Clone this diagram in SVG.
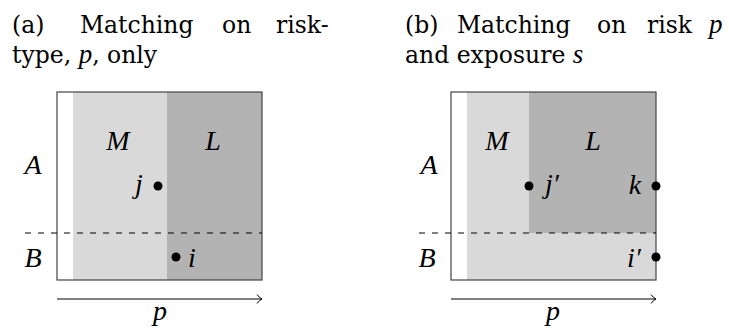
<svg xmlns="http://www.w3.org/2000/svg" width="729" height="336" viewBox="0 0 729 336">
<defs>
<style>
text{fill:#000}
.t{font-family:"DejaVu Serif","Liberation Serif",serif;font-size:23.5px}
.ti{font-family:"Liberation Serif","DejaVu Serif",serif;font-style:italic;font-size:27px}
.m{font-family:"Liberation Serif","DejaVu Serif",serif;font-style:italic;font-size:28px}
.box{fill:none;stroke:#444;stroke-width:1.2}
.dash{stroke:#000;stroke-width:1;stroke-dasharray:6 7;fill:none}
.ax{stroke:#000;stroke-width:1;fill:none}
.lt{fill:#d9d9d9}
.dk{fill:#b3b3b3}
</style>
<marker id="ah" markerWidth="10" markerHeight="12" refX="7" refY="6" orient="auto" markerUnits="userSpaceOnUse">
<path d="M2,1.5 Q4.5,5 7,6 Q4.5,7 2,10.5" fill="none" stroke="#000" stroke-width="1"/>
</marker>
</defs>
<rect width="729" height="336" fill="#fff"/>

<g id="caption-a">
<text class="t" x="12" y="33">(a)</text>
<text class="t" x="80" y="33">Matching</text>
<text class="t" x="222" y="33">on</text>
<text class="t" x="276" y="33">risk-</text>
<text class="t" x="12" y="63">type, <tspan class="ti">p</tspan>, only</text>
</g>

<g id="caption-b">
<text class="t" x="405" y="33">(b)</text>
<text class="t" x="457" y="33">Matching</text>
<text class="t" x="597" y="33">on</text>
<text class="t" x="647" y="33">risk</text>
<text class="ti" x="709" y="33">p</text>
<text class="t" x="405" y="63">and exposure <tspan class="ti">s</tspan></text>
</g>

<g id="panel-a">
<rect class="lt" x="73" y="92" width="94" height="188"/>
<rect class="dk" x="167" y="92" width="95" height="188"/>
<rect class="box" x="57" y="92" width="205" height="188"/>
<text class="m" x="118" y="150" text-anchor="middle">M</text>
<text class="m" x="213" y="150" text-anchor="middle">L</text>
<text class="m" x="33" y="174" text-anchor="middle">A</text>
<text class="m" x="33" y="267" text-anchor="middle">B</text>
</g>
<g id="node-j">
<circle cx="158" cy="186" r="4.5"/>
<text class="m" x="139" y="193" text-anchor="middle">j</text>
</g>
<g id="node-i">
<circle cx="176" cy="257" r="4.5"/>
<text class="m" x="192" y="267" text-anchor="middle">i</text>
</g>

<g id="panel-b">
<rect class="lt" x="467" y="92" width="189" height="188"/>
<rect class="dk" x="529" y="92" width="127" height="141"/>
<rect class="box" x="451" y="92" width="205" height="188"/>
<text class="m" x="497" y="150" text-anchor="middle">M</text>
<text class="m" x="593" y="150" text-anchor="middle">L</text>
<text class="m" x="429" y="174" text-anchor="middle">A</text>
<text class="m" x="427" y="267" text-anchor="middle">B</text>
</g>
<g id="node-jp">
<circle cx="529" cy="186" r="4.5"/>
<text class="m" x="552" y="193" text-anchor="middle">j′</text>
</g>
<g id="node-k">
<circle cx="656" cy="186" r="4.5"/>
<text class="m" x="635" y="194" text-anchor="middle">k</text>
</g>
<g id="node-ip">
<circle cx="656" cy="257" r="4.5"/>
<text class="m" x="634" y="267" text-anchor="middle">i′</text>
</g>

<g id="connectors">
<line class="dash" x1="25" y1="233" x2="262" y2="233"/>
<line class="dash" x1="419" y1="233" x2="656" y2="233"/>
<line class="ax" x1="57" y1="299" x2="262" y2="299" marker-end="url(#ah)"/>
<line class="ax" x1="451" y1="299" x2="656" y2="299" marker-end="url(#ah)"/>
<text class="m" x="160" y="320" text-anchor="middle">p</text>
<text class="m" x="553" y="320" text-anchor="middle">p</text>
</g>
</svg>
